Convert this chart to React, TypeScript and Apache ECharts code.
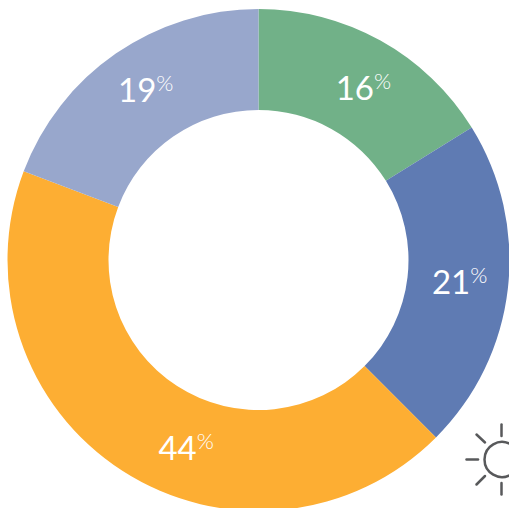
import React, { useEffect, useRef } from "react";
import * as echarts from "echarts";

const categories = ["A", "B", "C", "D"];
const sliceValues = [16.15, 21.35, 43.25, 19.25];
const percentLabels = ["16", "21", "44", "19"];
const colors = ["#71B188", "#5F7BB3", "#FDAE33", "#98A7CC"];
const labelOffsets = [[6, 5], [-1, -2], [38, 16], [3, -4]];

export default function App() {
  const ref = useRef<HTMLDivElement>(null);
  useEffect(() => {
    const chart = echarts.init(ref.current!, undefined, { renderer: "svg" });
    const ray = (x1: number, y1: number, x2: number, y2: number) => ({
      type: "line",
      shape: { x1, y1, x2, y2 },
      style: { stroke: "#58595B", lineWidth: 2.5, lineCap: "round" },
    });
    chart.setOption({
      animation: false,
      series: [
        {
          type: "pie",
          center: [258.5, 260],
          radius: [150, 251],
          startAngle: 90,
          clockwise: true,
          silent: true,
          label: {
            show: true,
            position: "inside",
            formatter: (p: any) => `{n|${percentLabels[p.dataIndex]}}{p|%}`,
            rich: {
              n: { fontFamily: "Lato", fontWeight: 400, fontSize: 33, color: "#fff", lineHeight: 34 },
              p: { fontFamily: "Lato", fontWeight: 300, fontSize: 22, color: "#fff", lineHeight: 34, padding: [0, 0, 13, 0] },
            },
          },
          labelLine: { show: false },
          data: categories.map((name, i) => ({
            name,
            value: sliceValues[i],
            itemStyle: { color: colors[i] },
            label: { offset: labelOffsets[i] },
          })),
        },
      ],
      graphic: [
        {
          type: "group",
          silent: true,
          children: [
            {
              type: "circle",
              shape: { cx: 502, cy: 459.5, r: 17.5 },
              style: { fill: "none", stroke: "#58595B", lineWidth: 2.5 },
            },
            ray(501.5, 424.5, 501.5, 436),
            ray(501.5, 483, 501.5, 494.5),
            ray(466.5, 459.5, 478, 459.5),
            ray(476.5, 434.5, 485, 442.5),
            ray(476.5, 484.5, 485, 476),
          ],
        },
      ],
    });
    return () => chart.dispose();
  }, []);
  return (
    <div
      ref={ref}
      style={{ position: "fixed", left: 0, top: 0, width: 509, height: 508, background: "#fff" }}
    />
  );
}
